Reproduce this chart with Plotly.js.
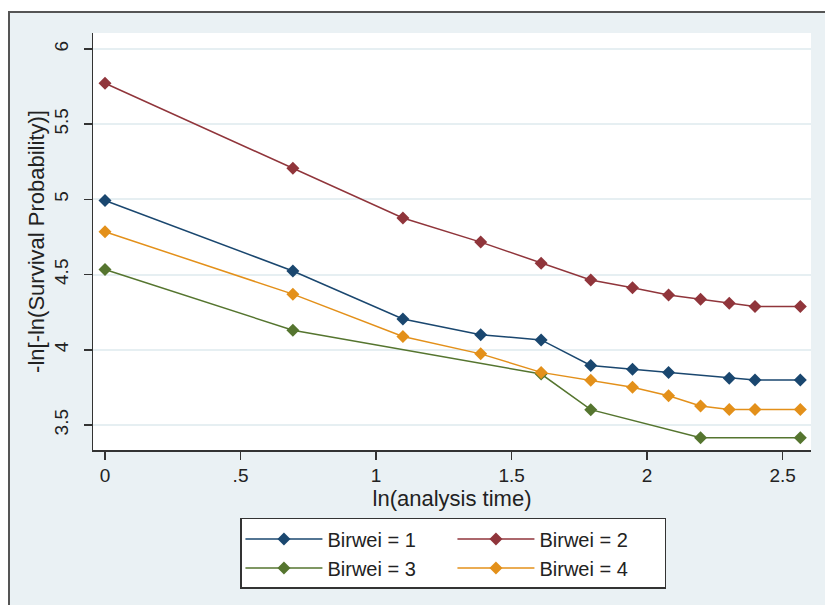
<!DOCTYPE html>
<html>
<head>
<meta charset="utf-8">
<script src="https://cdn.plot.ly/plotly-3.0.1.min.js"></script>
<style>
  html, body { margin: 0; padding: 0; background: #ffffff; width: 825px; height: 605px; overflow: hidden; }
  #frame { position: absolute; left: 8px; top: 11px; width: 817px; height: 594px;
           border-left: 2px solid #555555; border-top: 2px solid #555555; box-sizing: border-box; background: #eaf1f4; }
  #chart { position: absolute; left: 0; top: 0; width: 815px; height: 592px; }
</style>
</head>
<body>
<div id="frame"><div id="chart"></div></div>
<script>
// ln(analysis time) values and -ln[-ln(S)] values per group
const xB1 = [0, 0.693, 1.099, 1.386, 1.609, 1.792, 1.946, 2.079, 2.303, 2.398, 2.565];
const yB1 = [4.993, 4.524, 4.205, 4.100, 4.066, 3.896, 3.871, 3.849, 3.811, 3.799, 3.799];
const xB2 = [0, 0.693, 1.099, 1.386, 1.609, 1.792, 1.946, 2.079, 2.197, 2.303, 2.398, 2.565];
const yB2 = [5.772, 5.207, 4.876, 4.716, 4.576, 4.464, 4.413, 4.364, 4.336, 4.309, 4.288, 4.288];
const xB3 = [0, 0.693, 1.609, 1.792, 2.197, 2.565];
const yB3 = [4.534, 4.130, 3.839, 3.602, 3.415, 3.415];
const xB4 = [0, 0.693, 1.099, 1.386, 1.609, 1.792, 1.946, 2.079, 2.197, 2.303, 2.398, 2.565];
const yB4 = [4.785, 4.370, 4.088, 3.973, 3.850, 3.797, 3.751, 3.695, 3.626, 3.604, 3.604, 3.604];

const names = ['Birwei = 1', 'Birwei = 2', 'Birwei = 3', 'Birwei = 4'];
const colors = ['#1a476f', '#90353b', '#55752f', '#e3901a'];
const groups = ['colA', 'colB', 'colA', 'colB'];

const xTickVals = [0, 0.5, 1, 1.5, 2, 2.5];
const xTickText = ['0', '.5', '1', '1.5', '2', '2.5'];
const yTickVals = [3.5, 4, 4.5, 5, 5.5, 6];
const yTickText = ['3.5', '4', '4.5', '5', '5.5', '6'];

const xs = [xB1, xB2, xB3, xB4];
const ys = [yB1, yB2, yB3, yB4];

const FONT = 'Liberation Sans, Arial, sans-serif';

const traces = names.map((n, i) => ({
  type: 'scatter',
  mode: 'lines+markers',
  name: n,
  legendgroup: groups[i],
  x: xs[i],
  y: ys[i],
  line: { color: colors[i], width: 1.5 },
  marker: { symbol: 'diamond', size: 10, color: colors[i] }
}));

const layout = {
  width: 815,
  height: 592,
  paper_bgcolor: '#eaf1f4',
  plot_bgcolor: '#ffffff',
  margin: { l: 83, r: 14, t: 20, b: 155 },
  font: { family: FONT, size: 19, color: '#222222' },
  showlegend: true,
  xaxis: {
    range: [-0.0443, 2.6045],
    tickvals: xTickVals,
    ticktext: xTickText,
    ticks: 'outside',
    ticklen: 8,
    tickwidth: 1.5,
    tickcolor: '#333333',
    showline: true,
    linecolor: '#333333',
    linewidth: 1.5,
    showgrid: false,
    zeroline: false,
    tickfont: { family: FONT, size: 19, color: '#222222' },
    title: { text: 'ln(analysis time)', font: { family: FONT, size: 22, color: '#222222' }, standoff: 0 }
  },
  yaxis: {
    range: [3.334, 6.106],
    tickvals: yTickVals,
    ticktext: yTickText,
    tickangle: -90,
    ticks: 'outside',
    ticklen: 8,
    tickwidth: 1.5,
    tickcolor: '#333333',
    ticklabelstandoff: 8,
    showline: true,
    linecolor: '#333333',
    linewidth: 1.5,
    showgrid: true,
    gridcolor: '#e6eff2',
    gridwidth: 2,
    zeroline: false,
    tickfont: { family: FONT, size: 19, color: '#222222' },
    title: { text: '-ln[-ln(Survival Probability)]', font: { family: FONT, size: 22, color: '#222222' }, standoff: 0 }
  },
  legend: {
    orientation: 'h',
    x: 0.502,
    xanchor: 'center',
    y: -0.163,
    yanchor: 'top',
    bgcolor: '#ffffff',
    bordercolor: '#333333',
    borderwidth: 1.5,
    itemwidth: 77,
    entrywidth: 120,
    traceorder: 'grouped',
    font: { family: FONT, size: 20, color: '#222222' }
  }
};

Plotly.newPlot('chart', traces, layout, { displayModeBar: false, staticPlot: true });
</script>
</body>
</html>
